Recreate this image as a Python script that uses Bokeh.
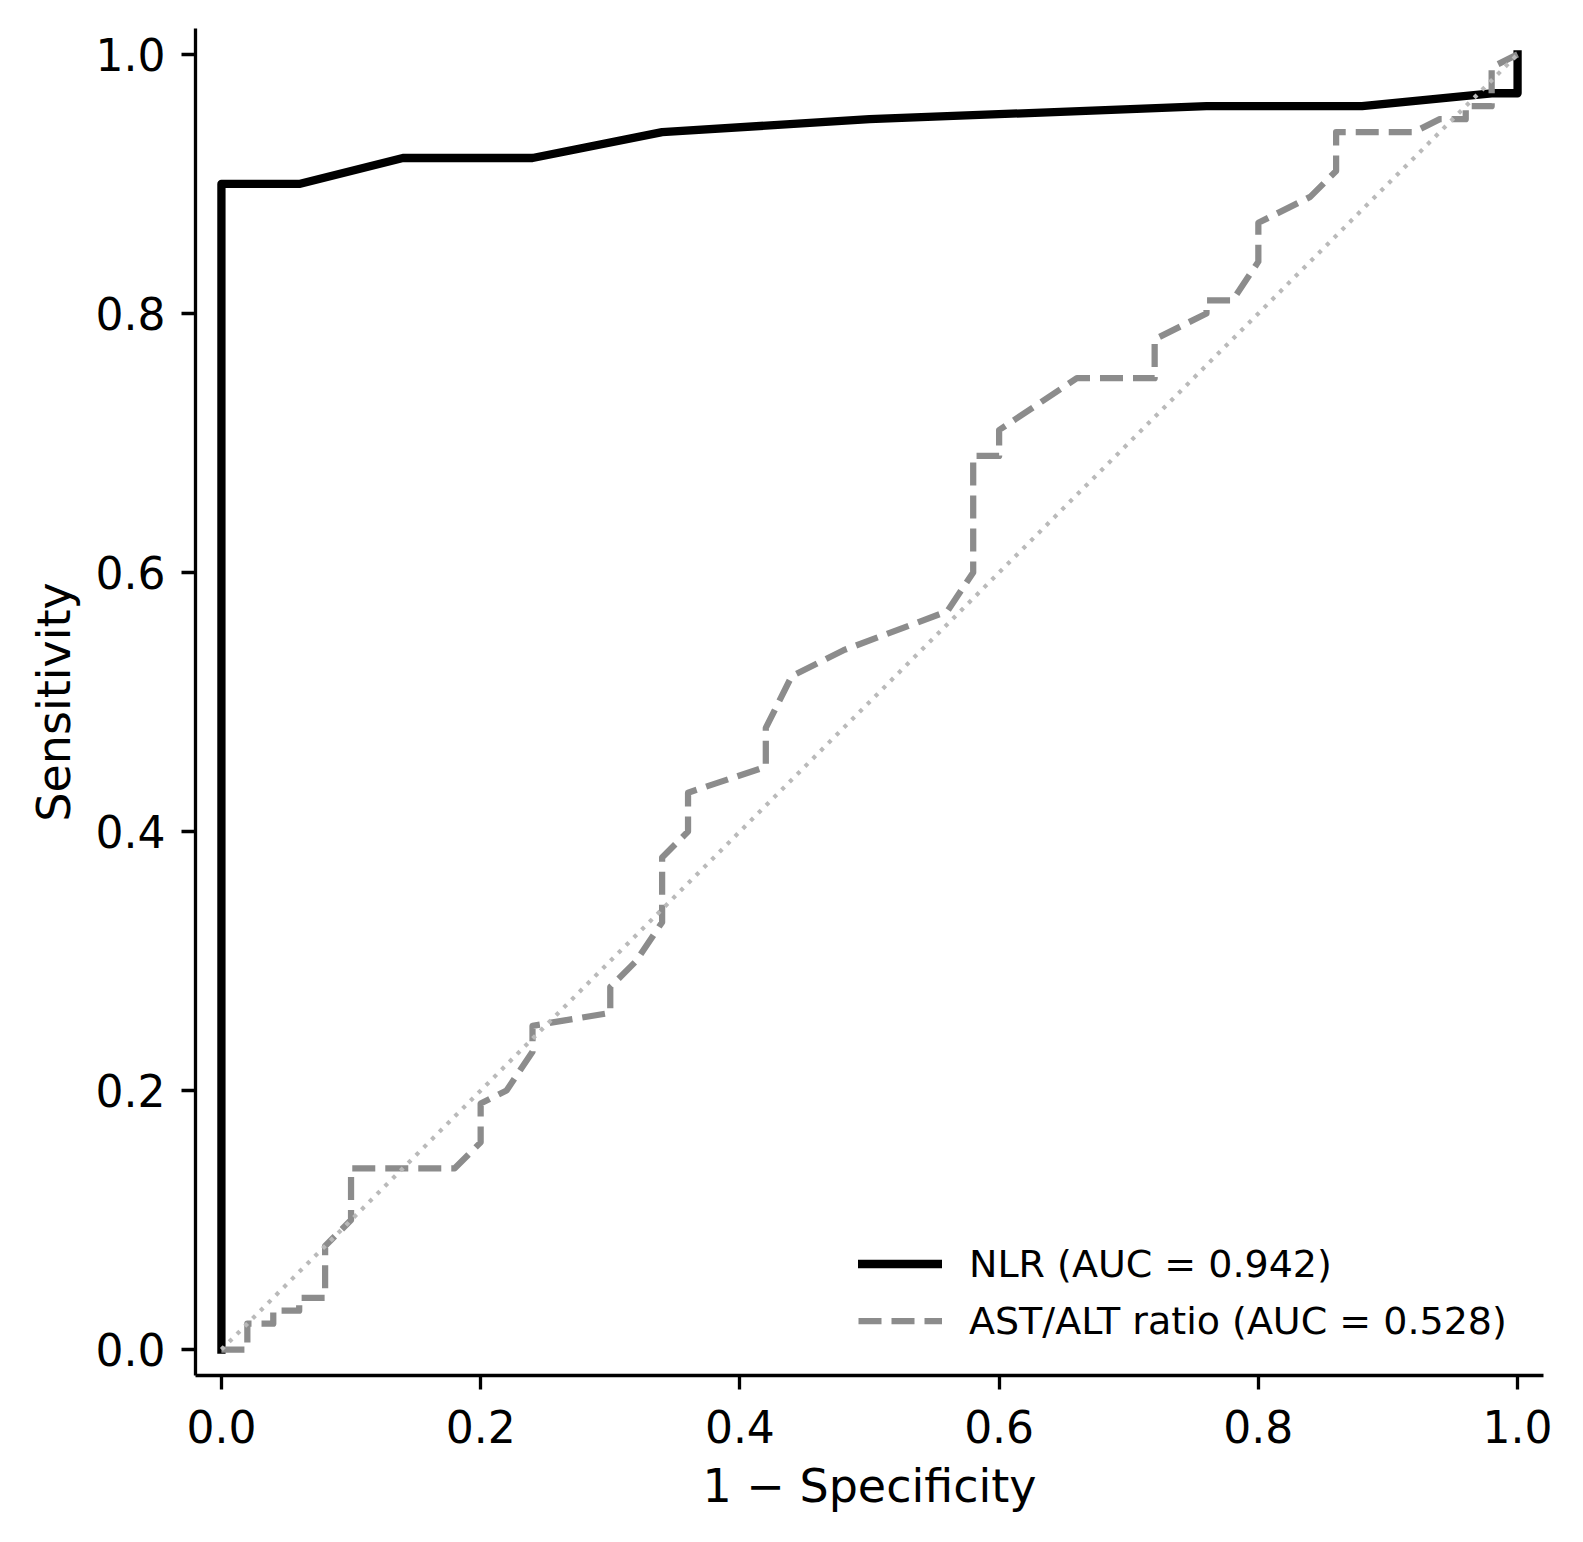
from bokeh.plotting import figure
from bokeh.models import Range1d, FixedTicker, PrintfTickFormatter, Legend, LegendItem
from bokeh.embed import file_html
from bokeh.resources import INLINE

# ROC points
nlr_fpr = [0.0, 0.0, 0.06, 0.14, 0.24, 0.34, 0.50, 0.76, 0.88, 0.98, 1.0, 1.0]
nlr_tpr = [0.0, 0.90, 0.90, 0.92, 0.92, 0.94, 0.95, 0.96, 0.96, 0.97, 0.97, 1.0]

ast_fpr = [0.0, 0.02, 0.02, 0.04, 0.04, 0.06, 0.06, 0.08, 0.08, 0.10, 0.10, 0.18,
           0.20, 0.20, 0.22, 0.24, 0.24, 0.30, 0.30, 0.32, 0.34, 0.34, 0.36, 0.36,
           0.42, 0.42, 0.44, 0.48, 0.56, 0.58, 0.58, 0.60, 0.60, 0.66, 0.72, 0.72,
           0.76, 0.76, 0.78, 0.80, 0.80, 0.84, 0.86, 0.86, 0.92, 0.94, 0.96, 0.96,
           0.98, 0.98, 1.0]
ast_tpr = [0.0, 0.0, 0.02, 0.02, 0.03, 0.03, 0.04, 0.04, 0.08, 0.10, 0.14, 0.14,
           0.16, 0.19, 0.20, 0.23, 0.25, 0.26, 0.28, 0.30, 0.33, 0.38, 0.40, 0.43,
           0.45, 0.48, 0.52, 0.54, 0.57, 0.60, 0.69, 0.69, 0.71, 0.75, 0.75, 0.78,
           0.80, 0.81, 0.81, 0.84, 0.87, 0.89, 0.91, 0.94, 0.94, 0.95, 0.95, 0.96,
           0.96, 0.99, 1.0]

chance = [0.0, 1.0]
ticks = [0.0, 0.2, 0.4, 0.6, 0.8, 1.0]

nlr_label = "NLR (AUC = 0.942)"
ast_label = "AST/ALT ratio (AUC = 0.528)"

p = figure(width=1567, height=1526, output_backend="svg", toolbar_location=None,
           x_range=Range1d(-0.02, 1.02), y_range=Range1d(-0.02, 1.02),
           min_border_left=195, min_border_right=24, min_border_top=28, min_border_bottom=151)
p.outline_line_color = None
p.xgrid.visible = False
p.ygrid.visible = False
p.background_fill_color = "white"
p.border_fill_color = "white"

for ax in (p.xaxis, p.yaxis):
    ax.ticker = FixedTicker(ticks=ticks)
    ax.formatter = PrintfTickFormatter(format="%.1f")
    ax.axis_line_width = 3.3
    ax.axis_line_color = "black"
    ax.major_tick_line_width = 3.3
    ax.major_tick_line_color = "black"
    ax.major_tick_out = 14
    ax.major_tick_in = 0
    ax.minor_tick_line_color = None
    ax.major_label_text_font = "DejaVu Sans"
    ax.major_label_text_font_size = "44px"
    ax.major_label_text_color = "black"
    ax.axis_label_text_font = "DejaVu Sans"
    ax.axis_label_text_font_size = "46px"
    ax.axis_label_text_font_style = "normal"
    ax.axis_label_text_color = "black"

p.xaxis.axis_label = "1 \u2212 Specificity"
p.yaxis.axis_label = "Sensitivity"
p.xaxis.major_label_standoff = 20
p.yaxis.major_label_standoff = 16
p.xaxis.axis_label_standoff = 13
p.yaxis.axis_label_standoff = 12

r_nlr = p.line(nlr_fpr, nlr_tpr, line_color="black", line_width=8.3,
               line_join="round", line_cap="square")
r_ast = p.line(ast_fpr, ast_tpr, line_color="#8c8c8c", line_width=6.25,
               line_dash="23 10", line_join="round")
p.line(chance, chance, line_color="#bababa", line_width=4.2, line_dash="4 7")

legend = Legend(items=[LegendItem(label=nlr_label, renderers=[r_nlr]),
                       LegendItem(label=ast_label, renderers=[r_ast])],
                location=(663, 32), padding=0, margin=0, spacing=12,
                glyph_width=84, glyph_height=45, label_height=45, label_standoff=27,
                label_text_font="DejaVu Sans", label_text_font_size="38px",
                label_text_color="black", border_line_color=None,
                background_fill_alpha=0)
p.add_layout(legend, "center")

open("out.html", "w").write(file_html(p, INLINE))
